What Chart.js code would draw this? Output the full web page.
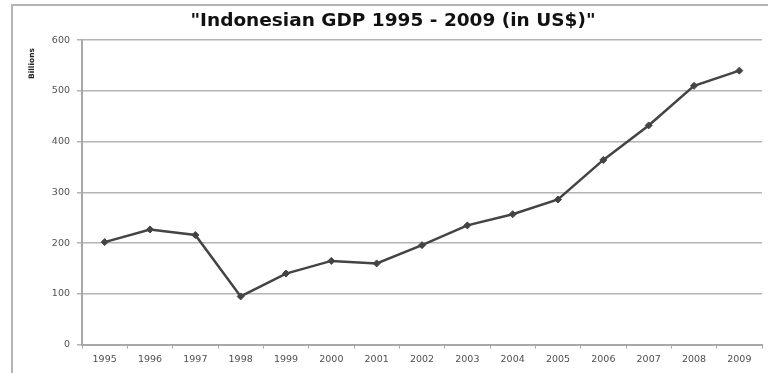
<!DOCTYPE html>
<html>
<head>
<meta charset="utf-8">
<script src="https://cdn.jsdelivr.net/npm/chart.js@4/dist/chart.umd.min.js"></script>
<style>
  html, body { margin: 0; padding: 0; background: #fff; overflow: hidden; }
  canvas { display: block; }
</style>
</head>
<body>
<canvas id="gdpChart" width="768" height="373"></canvas>
<script>
const years = ["1995", "1996", "1997", "1998", "1999", "2000", "2001", "2002",
  "2003", "2004", "2005", "2006", "2007", "2008", "2009"];
const gdpBillions = [202, 227, 216, 95, 140, 165, 160, 196, 235, 257, 286, 364, 432, 510, 540];
const yTicks = [0, 100, 200, 300, 400, 500, 600];

// the reference text is a bit wide, DejaVu gets closer than Arial
const baseFont = "'DejaVu Sans', 'Liberation Sans', Arial, sans-serif";

// grey frame on the left and top of the picture, like the scanned original
const framePlugin = {
  id: "frame",
  beforeDraw(chart) {
    const ctx = chart.ctx;
    ctx.save();
    ctx.strokeStyle = "#b4b4b4";
    ctx.lineWidth = 2;
    ctx.beginPath();
    ctx.moveTo(12, chart.height);
    ctx.lineTo(12, 5);
    ctx.lineTo(chart.width, 5);
    ctx.stroke();
    ctx.restore();
  }
};

new Chart("gdpChart", {
  type: "line",
  data: {
    labels: years,
    datasets: [{
      data: gdpBillions,
      borderColor: "#444",
      backgroundColor: "#444",
      borderWidth: 2.5,
      tension: 0,
      pointStyle: "rectRot",
      pointRadius: 3.5,
      pointBorderWidth: 1
    }]
  },
  plugins: [framePlugin],
  options: {
    responsive: false,
    animation: false,
    layout: { padding: { left: 24, right: 6, top: 8, bottom: 3 } },
    plugins: {
      legend: { display: false },
      tooltip: { enabled: false },
      title: {
        display: true,
        text: "\"Indonesian GDP 1995 - 2009 (in US$)\"",
        color: "#111",
        font: { family: baseFont, size: 18.5, weight: "bold" },
        padding: { top: 2, bottom: 8 }
      }
    },
    scales: {
      x: {
        offset: true,
        grid: {
          offset: true,
          drawOnChartArea: false,
          drawTicks: true,
          tickLength: 4,
          color: "#a8a8a8"
        },
        border: { color: "#a8a8a8", width: 2 },
        ticks: {
          color: "#505050",
          padding: 5,
          maxRotation: 0,
          font: { family: baseFont, size: 9.5 }
        }
      },
      y: {
        min: 0,
        max: 600,
        afterFit: scale => { scale.width = 58; },
        afterBuildTicks: scale => { scale.ticks = yTicks.map(v => ({ value: v })); },
        grid: { color: "#b4b4b4", lineWidth: 1.5, tickLength: 5 },
        border: { color: "#a8a8a8", width: 2 },
        ticks: {
          color: "#505050",
          padding: 7,
          font: { family: baseFont, size: 9.5 }
        },
        title: {
          display: true,
          text: "Billions   ",
          align: "end",
          color: "#222",
          font: { family: baseFont, size: 7.5, weight: "bold" },
          padding: { top: 4, bottom: 0 }
        }
      }
    }
  }
});
</script>
</body>
</html>
